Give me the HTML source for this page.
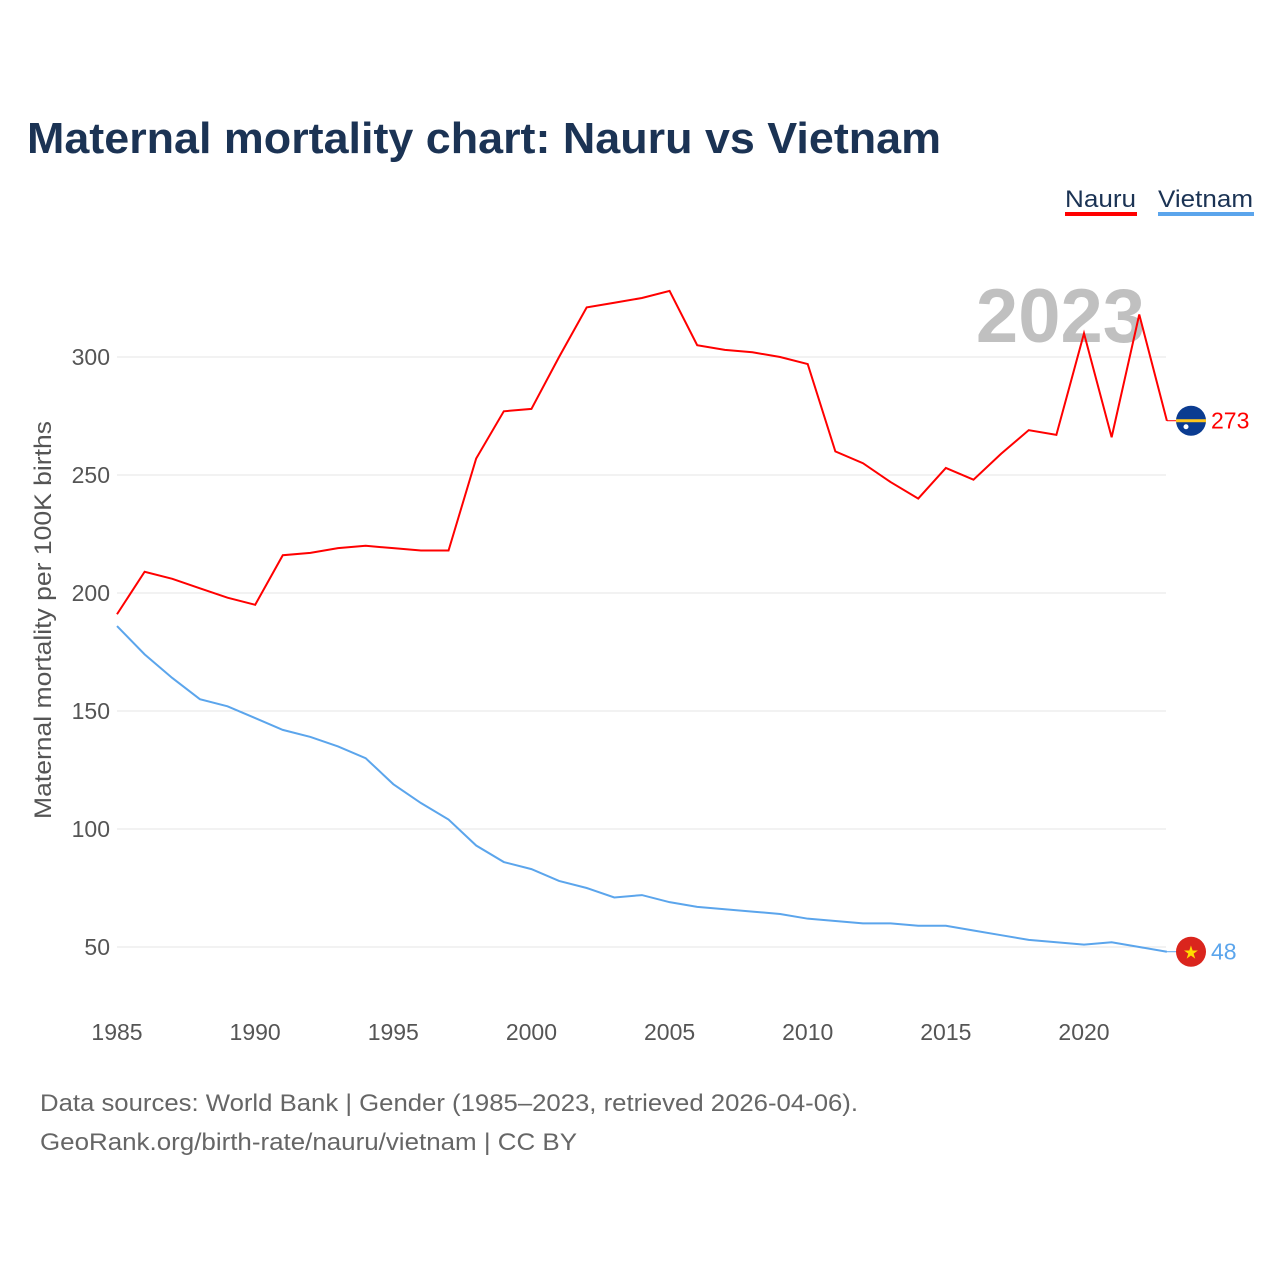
<!DOCTYPE html>
<html><head><meta charset="utf-8"><style>
body{margin:0;background:#fff;font-family:"Liberation Sans",sans-serif;}
svg text{font-family:"Liberation Sans",sans-serif;}
</style></head><body>
<svg width="1280" height="1280" viewBox="0 0 1280 1280">
<text x="27" y="153" font-size="44" font-weight="bold" fill="#1b3354" textLength="914" lengthAdjust="spacingAndGlyphs">Maternal mortality chart: Nauru vs Vietnam</text>
<g><text x="1065" y="207" font-size="24" fill="#1b3354" textLength="71" lengthAdjust="spacingAndGlyphs">Nauru</text><rect x="1065" y="212" width="72" height="4" fill="#ff0000"/></g>
<g><text x="1158" y="207" font-size="24" fill="#1b3354" textLength="95" lengthAdjust="spacingAndGlyphs">Vietnam</text><rect x="1158" y="212" width="96" height="4" fill="#5ba5ec"/></g>
<text x="1145" y="342" font-size="76" font-weight="bold" fill="#c0c0c0" text-anchor="end">2023</text>
<g id="grid"></g><g id="xt"></g><g id="yt"></g><g id="lines"></g>
<text transform="translate(51,620) rotate(-90)" font-size="24" fill="#555" text-anchor="middle" textLength="398" lengthAdjust="spacingAndGlyphs">Maternal mortality per 100K births</text>
<text x="40" y="1111" font-size="24" fill="#666" textLength="818" lengthAdjust="spacingAndGlyphs">Data sources: World Bank | Gender (1985–2023, retrieved 2026-04-06).</text>
<text x="40" y="1150" font-size="24" fill="#666" textLength="537" lengthAdjust="spacingAndGlyphs">GeoRank.org/birth-rate/nauru/vietnam | CC BY</text>
</svg>
<script>
const years=[];for(let y=1985;y<=2023;y++)years.push(y);
const nauru=[191,209,206,202,198,195,216,217,219,220,219,218,218,257,277,278,300,321,323,325,328,305,303,302,300,297,260,255,247,240,253,248,259,269,267,310,266,318,273];
const vietnam=[186,174,164,155,152,147,142,139,135,130,119,111,104,93,86,83,78,75,71,72,69,67,66,65,64,62,61,60,60,59,59,57,55,53,52,51,52,50,48];
const yTicks=[50,100,150,200,250,300];
const xTicks=[1985,1990,1995,2000,2005,2010,2015,2020];
const NS="http://www.w3.org/2000/svg";
const X=v=>117+(v-1985)*(1084-117)/35;
const Y=v=>947-(v-50)*(590/250);
function mk(t,a,p){const e=document.createElementNS(NS,t);for(const k in a)e.setAttribute(k,a[k]);document.getElementById(p).appendChild(e);return e;}
yTicks.forEach(v=>{
 const l=mk('line',{x1:117,x2:1166,y1:Y(v),y2:Y(v),stroke:'#e6e6e6','stroke-width':1},'grid');
 
 
 const t=mk('text',{x:110,y:Y(v)+8,'font-size':23,fill:'#555','text-anchor':'end'},'yt');t.textContent=v;
 
 
});
xTicks.forEach(v=>{
 const t=mk('text',{x:X(v),y:1040,'font-size':23,fill:'#555','text-anchor':'middle'},'xt');t.textContent=v;
 
 
});
function line(d,c,name){
 const p=mk('polyline',{points:d.map((v,i)=>X(years[i])+','+Y(v)).join(' '),fill:'none',stroke:c,'stroke-width':2},'lines');
 
 
 const last=d[d.length-1],ly=Y(last);
 mk('line',{x1:X(2023),x2:1178,y1:ly,y2:ly,stroke:c,'stroke-width':1},'lines');
 const m=mk('circle',{cx:1191,cy:ly,r:15,fill:name.includes('nauru')?'#0b3c91':'#da251d'},'lines');
 
 
 if(name.includes('nauru')){mk('rect',{x:1176,y:ly-1.5,width:30,height:3,fill:'#ffc61e'},'lines');mk('circle',{cx:1186,cy:ly+6,r:2.5,fill:'#fff'},'lines');}
 else{const s=mk('text',{x:1191,y:ly+7,'font-size':18,fill:'#ffdd00','text-anchor':'middle'},'lines');s.textContent='★';}
 const t=mk('text',{x:1211,y:ly+8,'font-size':23,fill:c},'lines');t.textContent=last;
 
 
}
line(nauru,'#ff0000','nauru-line');
line(vietnam,'#5ba5ec','vietnam-line');
</script>
</body></html>
